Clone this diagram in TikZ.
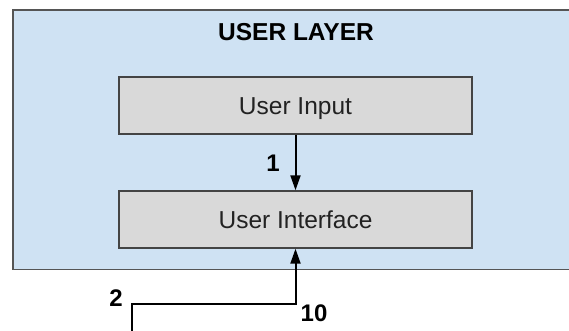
\documentclass[tikz,border=0pt]{standalone}
\usepackage{fontspec}
\setmainfont{Liberation Sans}
\usetikzlibrary{arrows.meta}
\definecolor{layerfill}{HTML}{CFE2F3}
\definecolor{layerline}{HTML}{555555}
\definecolor{boxfill}{HTML}{D9D9D9}
\definecolor{boxline}{HTML}{444444}
\definecolor{txt}{HTML}{222222}
\tikzset{
  layerbox/.style={draw=layerline, fill=layerfill, line width=1.6pt,
    minimum width=608pt, minimum height=259pt, inner sep=0pt},
  compbox/.style={draw=boxline, fill=boxfill, line width=1.4pt,
    minimum width=353pt, minimum height=57pt, inner sep=0pt,
    font=\fontsize{24.5}{28}\selectfont, text=txt,
    text height=17.5pt, text depth=0pt},
  flow/.style={draw=black, line width=2pt, line join=miter,
    -{Triangle[length=15pt,width=10pt]}},
  steplabel/.style={font=\bfseries\fontsize{24}{28}\selectfont, inner sep=0pt,
    text height=17pt, text depth=0pt},
  layertitle/.style={font=\bfseries\fontsize{24.5}{28}\selectfont, inner sep=0pt,
    text height=17.5pt, text depth=0pt}
}
\begin{document}
\begin{tikzpicture}[x=1pt,y=-1pt]
\useasboundingbox (0,0) rectangle (569,331);
\clip (0,0) rectangle (569,331);
\fill[white] (0,0) rectangle (569,331);

% user layer container (runs on past the right edge)
\node[layerbox, anchor=north west] (layer) at (12,9.5) {};
\node[layertitle] (title) at (296,31.5) {USER LAYER};

% components
\node[compbox] (input) at (295.5,105.5) {User Input};
\node[compbox] (ui) at (295.5,219.5) {User Interface};

% flows
\draw[flow] (input.south) -- (ui.north);
\node[steplabel] (l1) at (273,163) {1};

\coordinate (src) at (132,345);
\coordinate (bend) at (132,304);
\draw[flow] (src) -- (bend) -| (ui.south);
\node[steplabel] (l2) at (116,298) {2};
\node[steplabel] (l10) at (314,313) {10};
\end{tikzpicture}
\end{document}
